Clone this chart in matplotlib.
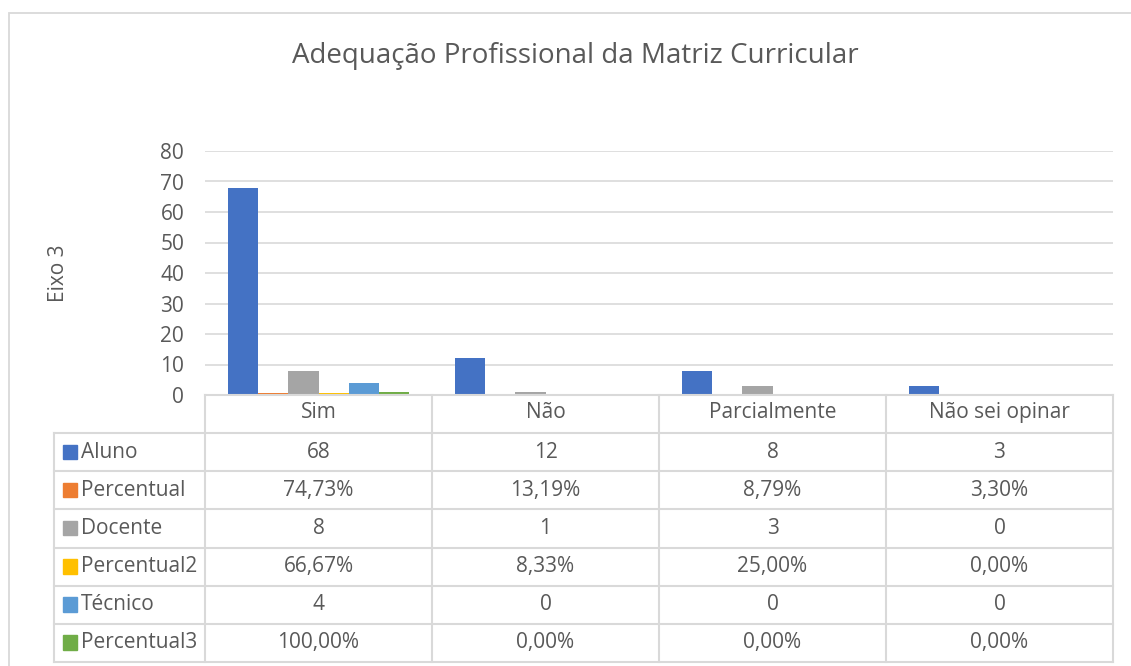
import matplotlib.pyplot as plt
from matplotlib.patches import Rectangle

plt.rcParams['font.family'] = ['Open Sans', 'DejaVu Sans']

categorias = ["Sim", "Não", "Parcialmente", "Não sei opinar"]
series = ["Aluno", "Percentual", "Docente", "Percentual2", "Técnico", "Percentual3"]
aluno = [68, 12, 8, 3]
percentual = [0.7473, 0.1319, 0.0879, 0.0330]
docente = [8, 1, 3, 0]
percentual2 = [0.6667, 0.0833, 0.25, 0.0]
tecnico = [4, 0, 0, 0]
percentual3 = [1.0, 0.0, 0.0, 0.0]
valores = [aluno, percentual, docente, percentual2, tecnico, percentual3]
eh_pct = [False, True, False, True, False, True]
cores = ["#4472C4", "#ED7D31", "#A5A5A5", "#FFC000", "#5B9BD5", "#70AD47"]

W, H = 1131, 666
fig = plt.figure(figsize=(W / 100, H / 100), dpi=100)
txt = "#595959"
linha = "#D9D9D9"
fs = 15


def fx(px):
    return px / W


def fy(py):
    return 1 - py / H


# borda externa do grafico
fig.patches.append(Rectangle((fx(9), fy(700)), fx(1200), fy(13) - fy(700),
                             transform=fig.transFigure, fill=False,
                             edgecolor=linha, lw=1.3))

fig.text(fx(575), fy(56), "Adequação Profissional da Matriz Curricular",
         ha="center", va="center", fontsize=20, color=txt)

# grafico de barras
x0, x1, ytop, ybot = 205, 1113, 151, 395
ax = fig.add_axes([fx(x0), fy(ybot), fx(x1 - x0), fy(ytop) - fy(ybot)])
n = len(series)
larg = 0.133
for i, (nome, vals) in enumerate(zip(series, valores)):
    pos = [k + (i - (n - 1) / 2) * larg for k in range(len(categorias))]
    ax.bar(pos, vals, width=larg, color=cores[i], zorder=3)
ax.set_xlim(-0.5, 3.5)
ax.set_ylim(0, 80)
ax.set_yticks(range(0, 81, 10))
ax.yaxis.grid(True, color=linha, lw=1.2, zorder=0)
ax.set_xticks([])
for s in ax.spines.values():
    s.set_visible(False)
ax.tick_params(axis="y", length=0, pad=15, labelsize=fs, labelcolor=txt)
fig.text(fx(58), fy(273), "Eixo 3", rotation=90, ha="center", va="center",
         fontsize=fs, color=txt)

# tabela de dados
tx0 = 54
tax = fig.add_axes([fx(tx0), fy(662), fx(x1 - tx0), fy(ybot) - fy(662)])
esq = -0.5 - (x0 - tx0) / 227.0
tax.set_xlim(esq, 3.5)
tax.set_ylim(7, 0)
tax.axis("off")
lk = dict(color=linha, lw=1.5, clip_on=False)
tax.plot([-0.5, 3.5], [0, 0], **lk)
for r in range(1, 8):
    tax.plot([esq, 3.5], [r, r], **lk)
for c in range(5):
    tax.plot([c - 0.5, c - 0.5], [0, 7], **lk)
tax.plot([esq, esq], [1, 7], **lk)
for c, cat in enumerate(categorias):
    tax.text(c, 0.47, cat, ha="center", va="center", fontsize=fs, color=txt)
for r, (nome, vals) in enumerate(zip(series, valores)):
    yy = r + 1.5
    tax.add_patch(Rectangle((esq + 0.04, yy - 0.2), 0.062, 0.38,
                            color=cores[r], clip_on=False))
    tax.text(esq + 0.12, yy, nome, ha="left", va="center", fontsize=fs, color=txt)
    for c, v in enumerate(vals):
        if eh_pct[r]:
            s = f"{v * 100:.2f}%".replace(".", ",")
        else:
            s = f"{v:g}"
        tax.text(c, yy, s, ha="center", va="center", fontsize=fs, color=txt)

fig.savefig("out.png", dpi=100)
